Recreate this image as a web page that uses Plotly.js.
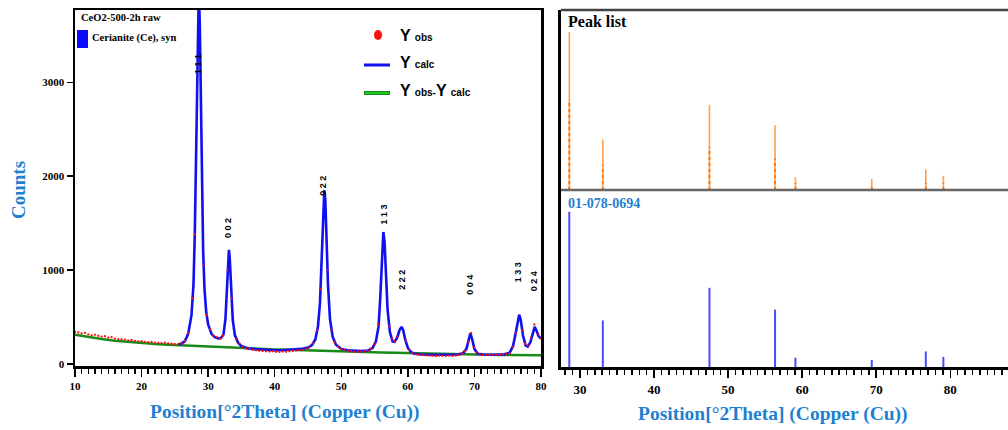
<!DOCTYPE html>
<html><head><meta charset="utf-8">
<script src="https://cdn.plot.ly/plotly-3.0.1.min.js"></script>
<style>html,body{margin:0;padding:0;background:#fff}</style>
</head><body>
<div id="chart" style="width:1008px;height:430px"></div>
<script>
// ---------------- DATA ----------------
const calcX = [25.5,26.0,26.5,27.0,27.5,27.8,28.0,28.15,28.3,28.45,28.6,28.75,28.9,29.05,29.25,29.45,29.7,30.0,30.5,31.0,31.5,31.9,32.3,32.6,32.85,33.0,33.12,33.25,33.45,33.7,34.0,34.5,35.0,35.5,36.0,37,38,39,40,41,42,43,44,45,45.6,46.1,46.5,46.8,47.05,47.25,47.45,47.6,47.8,48.0,48.3,48.7,49.2,50,51,52,53,54,54.7,55.2,55.6,55.85,56.1,56.32,56.5,56.7,56.95,57.3,57.7,58.0,58.4,58.75,59.05,59.3,59.6,60.0,60.5,61,62,64,66,67.5,68.3,68.8,69.15,69.4,69.65,70.0,70.5,71.5,73,74.5,75.3,75.8,76.2,76.5,76.72,76.95,77.3,77.7,78.0,78.4,78.75,79.05,79.3,79.6,80.0];
const calcY = [208,218,240,320,520,850,1400,2100,3000,3800,4000,3600,2700,1900,1200,800,560,420,320,285,272,275,310,480,850,1130,1215,1120,780,470,310,225,190,175,165,158,152,148,146,146,148,152,160,175,200,260,400,650,1050,1500,1850,1750,1300,850,480,290,205,160,145,138,136,142,170,240,400,700,1100,1405,1300,950,580,340,240,235,280,360,395,360,260,170,125,108,100,97,97,100,115,160,260,325,265,160,108,98,98,102,120,190,330,460,525,470,300,195,185,230,330,395,360,300,270];

const obsX = [10,10.5,11,11.5,12,12.5,13,13.5,14,14.5,15,15.5,16,16.5,17,17.5,18,18.5,19,19.5,20,20.5,21,21.5,22,22.5,23,23.5,24,24.5,25,25.5,26,26.5,27,27.6,28.0,29.3,29.8,30.3,30.8,31.3,31.8,32.2,32.9,33.5,34.2,34.7,35.2,35.7,36.2,36.7,37.2,37.7,38.2,38.7,39.2,39.7,40.2,40.7,41.2,41.7,42.2,42.7,43.2,43.7,44.2,44.7,45.2,45.8,46.4,46.9,47.9,48.5,49.0,49.5,50.0,50.5,51.0,51.5,52.0,52.5,53,53.5,54,54.5,55,55.6,57.2,57.6,58.0,58.4,59.7,60.2,60.7,61.2,61.7,62.2,62.7,63.2,63.7,64.2,64.7,65.2,65.7,66.2,66.7,67.2,67.7,68.2,68.6,69.1,69.5,69.9,70.3,70.8,71.3,71.8,72.3,72.8,73.3,73.8,74.3,74.8,75.3,75.8,76.2,77.2,77.6,78.0,78.5,79.0,79.6,80.0];
const obsY = [340,335,325,330,315,305,310,300,290,295,280,285,270,265,262,258,250,255,245,240,242,235,232,236,228,225,222,226,218,215,212,210,222,245,330,700,1380,1050,520,370,300,285,268,300,1000,700,265,220,180,165,158,150,145,140,138,135,132,135,130,128,132,130,135,138,142,148,150,160,175,220,360,800,1000,360,230,185,160,148,140,135,128,132,130,135,142,160,210,420,400,270,245,290,250,150,115,105,98,95,92,90,88,85,88,86,84,88,85,90,95,110,135,230,330,180,120,100,95,96,98,95,97,99,100,105,115,180,330,360,215,195,280,420,320,270];

const bgX = [10,12,14,16,18,20,22,24,26,28,30,32,34,36,38,40,42,44,46,48,50,52,54,56,58,60,62,64,66,68,70,72,74,76,78,80];
const bgY = [312,288,266,248,234,222,212,204,197,190,184,178,172,166,160,155,150,145,141,137,133,129,125,121,118,114,111,108,105,102,99,97,95,94,93,92];

const hklLabels = ['1 1 1','0 0 2','0 2 2','1 1 3','2 2 2','0 0 4','1 3 3','0 2 4'];
const hklX = [28.4,33.0,47.2,56.4,59.1,69.3,76.6,79.0];
const hklY = [3200,1450,1895,1590,895,840,980,885];

const peakPos = [28.55,33.08,47.48,56.34,59.09,69.40,76.70,79.07];
const peakListSolid = [100,32,54,41,8,7,13,9];
const peakListDotted = [57,16,27,20,4.4,3,4.4,4.4];
const refIntensity = [100,30,51,37,6,4.5,10,6.5];

const yTicks = [0,1000,2000,3000];
const leftXTicks = [10,20,30,40,50,60,70,80];
const rightXTicks = [30,40,50,60,70,80];

// ---------------- HELPERS ----------------
const W = 1008, H = 430;
const px = v => v / W, py = v => 1 - v / H;
const SERIF = 'Liberation Serif, Times New Roman, serif';
const SANS = 'Liberation Sans, Arial, sans-serif';
const BLUE_TXT = '#1f7fd0';
function sticks(pos, h) {
  const x = [], y = [];
  pos.forEach((p, i) => { x.push(p, p, null); y.push(0, h[i], null); });
  return {x, y};
}
const sSolid = sticks(peakPos, peakListSolid);
const sDot = sticks(peakPos, peakListDotted);
const sRef = sticks(peakPos, refIntensity);

const traces = [
  {x: bgX, y: bgY, xaxis: 'x', yaxis: 'y', mode: 'lines', line: {color: '#178a17', width: 2.5}, hoverinfo: 'skip'},
  {x: calcX, y: calcY, xaxis: 'x', yaxis: 'y', mode: 'lines', line: {color: '#1010f0', width: 2.6}, hoverinfo: 'skip'},
  {x: obsX, y: obsY, xaxis: 'x', yaxis: 'y', mode: 'markers', marker: {color: '#ff1010', size: 2.3}, hoverinfo: 'skip'},
  {x: sSolid.x, y: sSolid.y, xaxis: 'x2', yaxis: 'y2', mode: 'lines', line: {color: '#ffa050', width: 1.6}, hoverinfo: 'skip'},
  {x: sDot.x, y: sDot.y, xaxis: 'x2', yaxis: 'y2', mode: 'lines', line: {color: '#ff7a10', width: 2, dash: 'dot'}, hoverinfo: 'skip'},
  {x: sRef.x, y: sRef.y, xaxis: 'x3', yaxis: 'y3', mode: 'lines', line: {color: '#4a4aff', width: 2}, hoverinfo: 'skip'}
];

const tickFontL = {family: SERIF, size: 11, color: '#000', weight: 700};
const tickFontR = {family: SERIF, size: 13, color: '#000', weight: 700};

const annotations = [];
hklLabels.forEach((t, i) => annotations.push({
  text: t, x: hklX[i], y: hklY[i], xref: 'x', yref: 'y', showarrow: false, textangle: -90,
  font: {family: SANS, size: 9, color: '#000', weight: 700}
}));
function ann(text, x, y, opts) {
  annotations.push(Object.assign({text, x: px(x), y: py(y), xref: 'paper', yref: 'paper', showarrow: false,
    xanchor: 'left', yanchor: 'middle'}, opts || {}));
}
ann('CeO2-500-2h raw', 79, 18, {font: {family: SERIF, size: 10.5, color: '#000', weight: 700}});
ann('Cerianite (Ce), syn', 90, 38, {font: {family: SERIF, size: 10.5, color: '#000', weight: 700}});
ann('Y <span style="font-size:10px">obs</span>', 398, 35, {font: {family: SANS, size: 16, color: '#000', weight: 700}});
ann('Y <span style="font-size:10px">calc</span>', 398, 63, {font: {family: SANS, size: 16, color: '#000', weight: 700}});
ann('Y <span style="font-size:10px">obs-</span>Y <span style="font-size:10px">calc</span>', 398, 91, {font: {family: SANS, size: 16, color: '#000', weight: 700}});
ann('Counts', 18, 190, {xanchor: 'center', textangle: -90, font: {family: SERIF, size: 19, color: BLUE_TXT, weight: 700}});
ann('Position[°2Theta] (Copper (Cu))', 285, 412, {xanchor: 'center', font: {family: SERIF, size: 19.5, color: BLUE_TXT, weight: 700}});
ann('Position[°2Theta] (Copper (Cu))', 773, 414, {xanchor: 'center', font: {family: SERIF, size: 19.5, color: BLUE_TXT, weight: 700}});
ann('Peak list', 566, 21, {font: {family: SERIF, size: 16, color: '#000', weight: 700}});
ann('01-078-0694', 566, 203, {font: {family: SERIF, size: 14, color: BLUE_TXT, weight: 700}});

const shapes = [
  {type: 'rect', xref: 'paper', yref: 'paper', x0: px(77), x1: px(88), y0: py(48), y1: py(30), fillcolor: '#0a0aff', line: {width: 0}},
  {type: 'circle', xref: 'paper', yref: 'paper', x0: px(374), x1: px(382), y0: py(40), y1: py(30), fillcolor: '#ff1010', line: {width: 0}},
  {type: 'line', xref: 'paper', yref: 'paper', x0: px(364), x1: px(390), y0: py(65), y1: py(65), line: {color: '#1010f0', width: 3}},
  {type: 'line', xref: 'paper', yref: 'paper', x0: px(364), x1: px(390), y0: py(93), y1: py(93), line: {color: '#1a8a1a', width: 4}},
  {type: 'line', xref: 'paper', yref: 'paper', x0: px(365), x1: px(389), y0: py(93), y1: py(93), line: {color: '#22dd22', width: 1.5}},
  {type: 'line', xref: 'paper', yref: 'paper', x0: px(561), x1: 1, y0: py(10), y1: py(10), line: {color: '#444', width: 2.5}},
  {type: 'line', xref: 'paper', yref: 'paper', x0: px(561), x1: 1, y0: py(190), y1: py(190), line: {color: '#666', width: 2.5}}
];

const layout = {
  width: W, height: H, margin: {l: 0, r: 0, t: 0, b: 0}, showlegend: false,
  paper_bgcolor: '#fff', plot_bgcolor: 'rgba(0,0,0,0)',
  xaxis: {domain: [px(75), px(541)], range: [10, 80], anchor: 'y', showline: true, mirror: true, linecolor: '#000', linewidth: 2.5,
    tickvals: leftXTicks, ticks: 'outside', ticklen: 8, tickwidth: 1.5, tickcolor: '#000', tickfont: tickFontL,
    minor: {dtick: 1, tick0: 10, ticks: 'outside', ticklen: 5, tickwidth: 1.5, tickcolor: '#000', showgrid: false},
    showgrid: false, zeroline: false},
  yaxis: {domain: [py(366), py(10)], range: [-22, 3770], anchor: 'x', showline: true, mirror: true, linecolor: '#000', linewidth: 2.5,
    tickvals: yTicks, ticks: 'outside', ticklen: 6, tickwidth: 1.5, tickcolor: '#000', tickfont: tickFontL,
    showgrid: false, zeroline: false},
  xaxis2: {domain: [px(561), 1], range: [27.43, 87.8], anchor: 'y2', showline: false, showticklabels: false, ticks: '',
    showgrid: false, zeroline: false},
  yaxis2: {domain: [py(190), py(10)], range: [0, 114], anchor: 'x2', showline: true, linecolor: '#000', linewidth: 3,
    showticklabels: false, ticks: '', showgrid: false, zeroline: false},
  xaxis3: {domain: [px(561), 1], range: [27.43, 87.8], anchor: 'y3', showline: true, linecolor: '#000', linewidth: 3,
    tickvals: rightXTicks, ticks: 'outside', ticklen: 8, tickwidth: 1.5, tickcolor: '#000', tickfont: tickFontR,
    minor: {dtick: 1, tick0: 30, ticks: 'outside', ticklen: 5, tickwidth: 1.5, tickcolor: '#000', showgrid: false},
    showgrid: false, zeroline: false},
  yaxis3: {domain: [py(367), py(190)], range: [0, 114], anchor: 'x3', showline: true, linecolor: '#000', linewidth: 3,
    showticklabels: false, ticks: '', showgrid: false, zeroline: false},
  annotations, shapes
};
Plotly.newPlot('chart', traces, layout, {staticPlot: true, displayModeBar: false});
</script>
</body></html>
